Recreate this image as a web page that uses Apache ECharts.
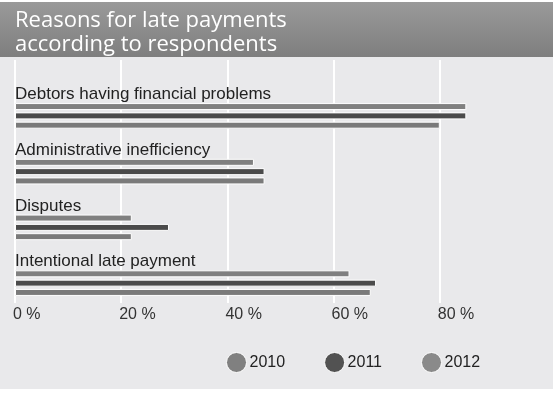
<!DOCTYPE html>
<html>
<head>
<meta charset="utf-8">
<script src="https://cdn.jsdelivr.net/npm/echarts@6/dist/echarts.min.js"></script>
<style>
  html, body { margin: 0; padding: 0; background: #fff; }
  #chart { width: 557px; height: 397px; }
</style>
</head>
<body>
<div id="chart"></div>
<script>
  // data
  const reasons = ['Debtors having financial problems', 'Administrative inefficiency', 'Disputes', 'Intentional late payment'];
  const years = ['2010', '2011', '2012'];
  const v2010 = [85, 45, 22, 63];
  const v2011 = [85, 47, 29, 68];
  const v2012 = [80, 47, 22, 67];
  const ticks = [0, 20, 40, 60, 80];

  const colors = ['#808080', '#4b4b4b', '#7a7a7a'];
  const legendColors = ['#808080', '#525252', '#8a8a8a'];
  const values = [v2010, v2011, v2012];

  let chart = echarts.init(document.getElementById('chart'));

  let option = {
    animation: false,
    textStyle: { fontFamily: 'Liberation Sans' },
    graphic: [
      {
        type: 'rect', z: -10,
        shape: { x: 0, y: 57, width: 553, height: 332 },
        style: { fill: '#e9e9eb' }
      },
      {
        type: 'rect', z: -10,
        shape: { x: 0, y: 2, width: 553, height: 55 },
        style: {
          fill: new echarts.graphic.LinearGradient(0, 0, 0, 1, [
            { offset: 0, color: '#9a9a9a' },
            { offset: 1, color: '#7e7e7e' }
          ])
        }
      }
    ],
    title: {
      text: 'Reasons for late payments\naccording to respondents',
      left: 10,
      top: 4,
      textStyle: {
        color: '#fff',
        fontFamily: 'Open Sans',
        fontWeight: 'normal',
        fontSize: 22,
        lineHeight: 24
      }
    },
    legend: {
      data: years.map((y, i) => ({ name: y, itemStyle: { color: legendColors[i], borderColor: '#fff', borderWidth: 1 } })),
      left: 221,
      top: 347,
      icon: 'circle',
      itemWidth: 20,
      itemHeight: 20,
      itemGap: 39,
      textStyle: { fontSize: 16, color: '#222', padding: [0, 0, 0, -2] }
    },
    grid: [
      { left: 15, right: 11, top: 60, bottom: 94 },
      { left: 15, right: 11, top: 88, bottom: 86 }
    ],
    xAxis: [
      {
        gridIndex: 0,
        type: 'value',
        min: 0,
        max: 100,
        interval: 20,
        axisLine: { show: false },
        axisTick: { show: false },
        splitLine: { show: true, showMaxLine: false, lineStyle: { color: '#fff', width: 2 } },
        axisLabel: {
          showMaxLabel: false,
          margin: 4,
          align: 'left',
          padding: [0, 0, 0, -2],
          fontSize: 16,
          color: '#333',
          formatter: v => ticks.indexOf(v) >= 0 ? v + ' %' : ''
        }
      },
      {
        gridIndex: 1,
        type: 'value',
        min: 0,
        max: 100,
        show: false
      }
    ],
    yAxis: [
      { gridIndex: 0, type: 'value', show: false },
      {
        gridIndex: 1,
        type: 'category',
        data: reasons,
        inverse: true,
        axisLine: { show: false },
        axisTick: { show: false },
        axisLabel: {
          inside: true,
          margin: 0,
          align: 'left',
          verticalAlign: 'bottom',
          padding: [0, 0, 13, 0],
          fontSize: 17,
          color: '#222'
        }
      }
    ],
    series: years.map((y, i) => ({
      name: y,
      type: 'bar',
      xAxisIndex: 1,
      yAxisIndex: 1,
      data: values[i],
      barWidth: 7,
      barGap: '33%',
      itemStyle: { color: colors[i], borderColor: '#fff', borderWidth: 1 }
    }))
  };
  chart.setOption(option);
</script>
</body>
</html>
